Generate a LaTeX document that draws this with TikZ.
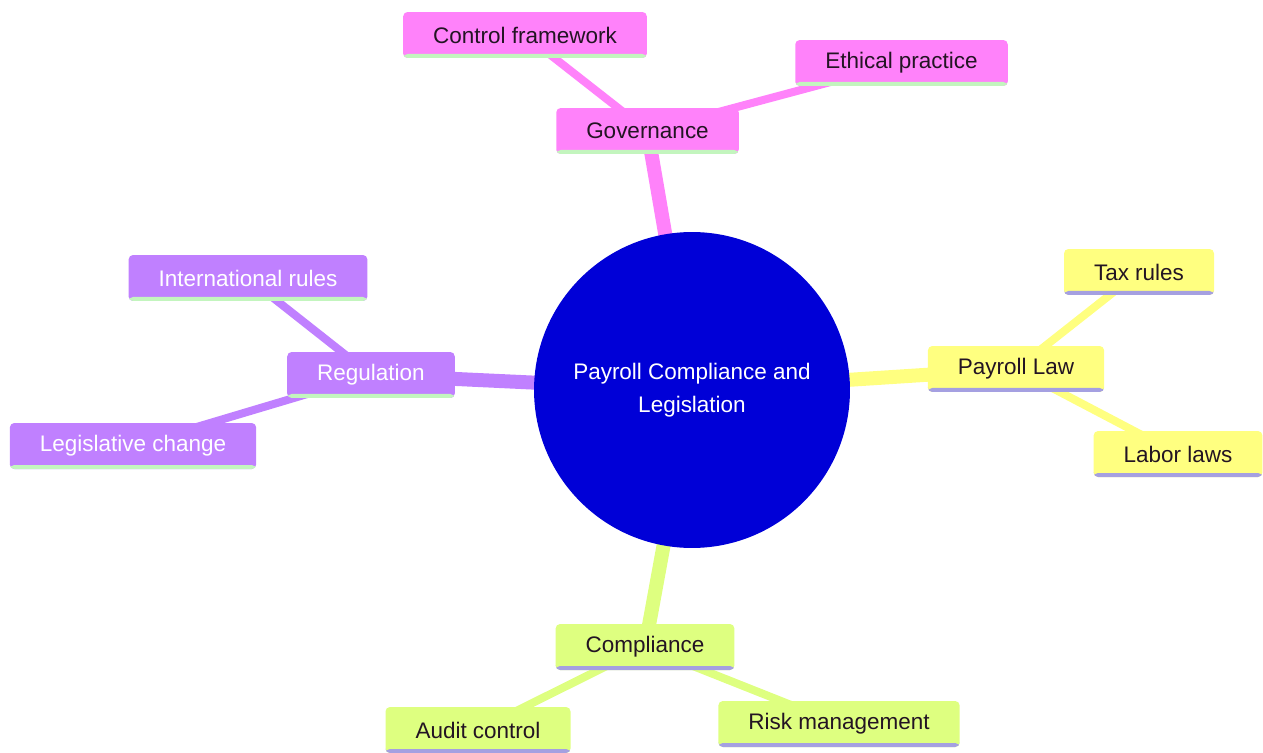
\documentclass[tikz,border=0pt]{standalone}
\usepackage{fontspec}
\setmainfont{Liberation Sans}
\usepackage{xcolor}
\usepackage{tikz}
\usetikzlibrary{backgrounds}
\definecolor{hubblue}{RGB}{0, 0, 215}
\definecolor{govpink}{RGB}{255, 130, 250}
\definecolor{lawyellow}{RGB}{255, 255, 128}
\definecolor{complime}{RGB}{222, 255, 128}
\definecolor{regpurple}{RGB}{192, 128, 255}
\definecolor{linegreen}{RGB}{195, 245, 190}
\definecolor{linelilac}{RGB}{165, 160, 225}
\definecolor{inkdark}{RGB}{35, 20, 35}
\tikzset{
    topic/.style  ={rectangle, rounded corners=2.5pt, minimum height=0.92cm,
                    inner xsep=0.6cm, font=\fontsize{12.8}{15}\selectfont,
                    text=inkdark},
    baseline/.style={path picture={\fill[#1]
                    ([yshift=0.08cm]path picture bounding box.south west)
                    rectangle (path picture bounding box.south east);}},
    govbox/.style ={topic, fill=govpink, baseline=linegreen},
    lawbox/.style ={topic, fill=lawyellow, baseline=linelilac},
    compbox/.style={topic, fill=complime, baseline=linelilac},
    regbox/.style ={topic, fill=regpurple, baseline=linegreen, text=white},
    hub/.style    ={circle, fill=hubblue, minimum size=6.32cm, text=white,
                    align=center, font=\fontsize{12.8}{18.5}\selectfont},
    trunk/.style  ={line width=0.28cm},
    twig/.style   ={line width=0.16cm}
}

\begin{document}
\begin{tikzpicture}[x=0.02cm, y=-0.02cm]
  \useasboundingbox (0,0) rectangle (1263,753);

  \node[hub] (root) at (692, 390) {Payroll Compliance and\\Legislation};

  % governance branch
  \node[govbox] (gov)   at (647.5, 131) {Governance};
  \node[govbox] (ctrl)  at (525, 35)    {Control framework};
  \node[govbox] (ethic) at (901.5, 63)  {Ethical practice};

  % payroll law branch
  \node[lawbox] (law)   at (1016, 369)  {Payroll Law};
  \node[lawbox] (tax)   at (1139, 272)  {Tax rules};
  \node[lawbox] (labor) at (1178, 454)  {Labor laws};

  % compliance branch
  \node[compbox] (comp)  at (645, 647)  {Compliance};
  \node[compbox] (audit) at (478, 730)  {Audit control};
  \node[compbox] (risk)  at (839, 724)  {Risk management};

  % regulation branch
  \node[regbox] (reg)   at (371, 375)   {Regulation};
  \node[regbox] (intl)  at (248, 278)   {International rules};
  \node[regbox] (legis) at (133, 446)   {Legislative change};

  \begin{scope}[on background layer]
    \draw[trunk, draw=govpink]   (root.center) -- (gov.center);
    \draw[trunk, draw=lawyellow] (root.center) -- (law.center);
    \draw[trunk, draw=complime]  (root.center) -- (comp.center);
    \draw[trunk, draw=regpurple] (root.center) -- (reg.center);
    \draw[twig, draw=govpink]   (gov.center) -- (ctrl.center);
    \draw[twig, draw=govpink]   (gov.center) -- (ethic.center);
    \draw[twig, draw=lawyellow] (law.center) -- (tax.center);
    \draw[twig, draw=lawyellow] (law.center) -- (labor.center);
    \draw[twig, draw=complime]  (comp.center) -- (audit.center);
    \draw[twig, draw=complime]  (comp.center) -- (risk.center);
    \draw[twig, draw=regpurple] (reg.center) -- (intl.center);
    \draw[twig, draw=regpurple] (reg.center) -- (legis.center);
  \end{scope}
\end{tikzpicture}
\end{document}
